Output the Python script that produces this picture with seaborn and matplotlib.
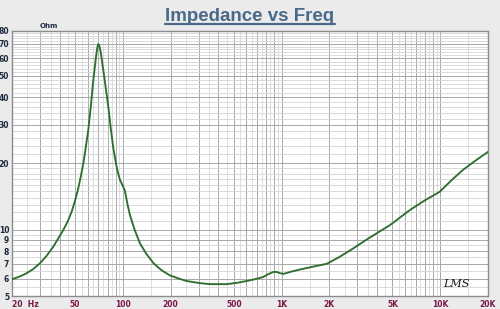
import matplotlib
matplotlib.use("Agg")
import matplotlib.pyplot as plt
import seaborn as sns
import pandas as pd
import numpy as np
from matplotlib.lines import Line2D

# ---- data ----
freq_hz = [20, 22, 24.2, 27, 30, 33, 36.4, 39, 42.1, 45, 47.6, 50, 52.4, 54.3, 56.3,
           58.4, 60.5, 62.8, 65.1, 67.7, 69, 70, 71, 72.5, 73.8, 75.2, 78, 80.9,
           84.1, 87, 90.4, 93, 96, 100, 103, 107, 111, 118, 128, 140, 156, 175,
           198, 225, 252, 300, 354, 451, 525, 602, 680, 767, 830, 887, 931, 980,
           1026, 1150, 1307, 1585, 1925, 2300, 2832, 3500, 4822, 6446, 8000, 9955,
           10700, 12000, 13900, 16500, 20000]
impedance_ohm = [5.96, 6.1, 6.29, 6.6, 7.04, 7.6, 8.37, 9.1, 9.97, 10.95, 12.1, 13.6, 15.5,
                 17.5, 20, 23.8, 28.4, 36.5, 47.9, 61.2, 67.5, 69.8, 68.8, 64, 58.5,
                 53.2, 44, 36.2, 28.4, 23.5, 20, 18.2, 16.8, 15.8, 15.0, 13.0, 11.6,
                 10.1, 8.68, 7.8, 7.04, 6.55, 6.2, 6.0, 5.85, 5.73, 5.66, 5.66, 5.74,
                 5.85, 5.96, 6.1, 6.3, 6.43, 6.43, 6.35, 6.3, 6.45, 6.6, 6.8, 7.0, 7.5,
                 8.23, 9.1, 10.5, 12.3, 13.6, 14.9, 15.7, 17.0, 18.7, 20.5, 22.6]
x_ticks = [20, 50, 100, 200, 500, 1000, 2000, 5000, 10000, 20000]
x_tick_labels = ["20  Hz", "50", "100", "200", "500", "1K", "2K", "5K", "10K", "20K"]
y_ticks = [5, 6, 7, 8, 9, 10, 20, 30, 40, 50, 60, 70, 80]
y_tick_labels = ["5", "6", "7", "8", "9", "10", "20", "30", "40", "50", "60", "70", "80"]

df = pd.DataFrame({"freq": freq_hz, "imp": impedance_ohm})

sns.set_style("white")
plt.rcParams['font.family'] = ['DejaVu Sans']

fig = plt.figure(figsize=(5.0, 3.09), dpi=100, facecolor="#EBEBEB")
ax = fig.add_axes([12/500, 1-296/309, 476/500, 265/309])
ax.set_facecolor("white")

ax.set_xscale("log")
ax.set_yscale("log")
ax.set_xlim(20, 20000)
ax.set_ylim(5, 80)

# grid: vertical
minor_v = []
major_v = []
for dec in [10, 100, 1000, 10000]:
    for m in range(1, 10):
        f = m * dec
        if 20 <= f <= 20000:
            major_v.append(f)
        fh = (m + 0.5) * dec
        if 20 < fh < 20000:
            minor_v.append(fh)
for f in minor_v:
    ax.axvline(f, color="#DADADA", lw=0.6, zorder=0)
for f in major_v:
    ax.axvline(f, color="#A8A8A8", lw=0.7, zorder=0)
# grid: horizontal
minor_h = list(np.arange(5.5, 10, 0.5)) + list(range(11, 20)) + list(range(22, 80, 2))
for v in minor_h:
    ax.axhline(v, color="#D4D4D4", lw=0.6, zorder=0)
for v in y_ticks:
    ax.axhline(v, color="#A8A8A8", lw=0.7, zorder=0)

sns.lineplot(data=df, x="freq", y="imp", ax=ax, color="#2F6E2F", lw=1.35, zorder=3)

ax.set_xticks(x_ticks)
ax.set_xticklabels(x_tick_labels)
ax.set_yticks(y_ticks)
ax.set_yticklabels(y_tick_labels)
ax.minorticks_off()
ax.set_xticks([], minor=True)
ax.set_yticks([], minor=True)
ax.tick_params(axis="x", length=0, pad=3, labelsize=5.5, labelcolor="#7A1848")
ax.tick_params(axis="y", length=0, pad=2, labelsize=5.5, labelcolor="#1E2A40")
for t in ax.get_xticklabels():
    t.set_fontweight("bold")
for t in ax.get_yticklabels():
    t.set_fontweight("bold")
xl = ax.get_xticklabels()
xl[0].set_horizontalalignment("left")
ax.set_xlabel("")
ax.set_ylabel("")

for s in ax.spines.values():
    s.set_color("#8C8C8C")
    s.set_linewidth(1.0)

# Ohm label
fig.text(40/500, 1-26/309, "Ohm", fontsize=5, fontweight="bold", color="#1E2A40",
         ha="left", va="center")
# LMS signature
ax.text(0.962, 0.025, "LMS", transform=ax.transAxes, fontsize=8, style="italic",
        color="#111111", ha="right", va="bottom", family="DejaVu Serif")

# title with underline
title = fig.text(0.5, 1-21/309, "Impedance vs Freq", ha="center", va="baseline",
                 fontsize=13.5, fontweight="bold", color="#4A6A8A", family="Liberation Sans")
fig.canvas.draw()
bb = title.get_window_extent(renderer=fig.canvas.get_renderer())
yline = 1 - 24/309
fig.add_artist(Line2D([bb.x0 / fig.bbox.width, bb.x1 / fig.bbox.width], [yline, yline],
                      transform=fig.transFigure, color="#4A6A8A", lw=1.6))

fig.savefig("out.png", dpi=100, facecolor=fig.get_facecolor())
